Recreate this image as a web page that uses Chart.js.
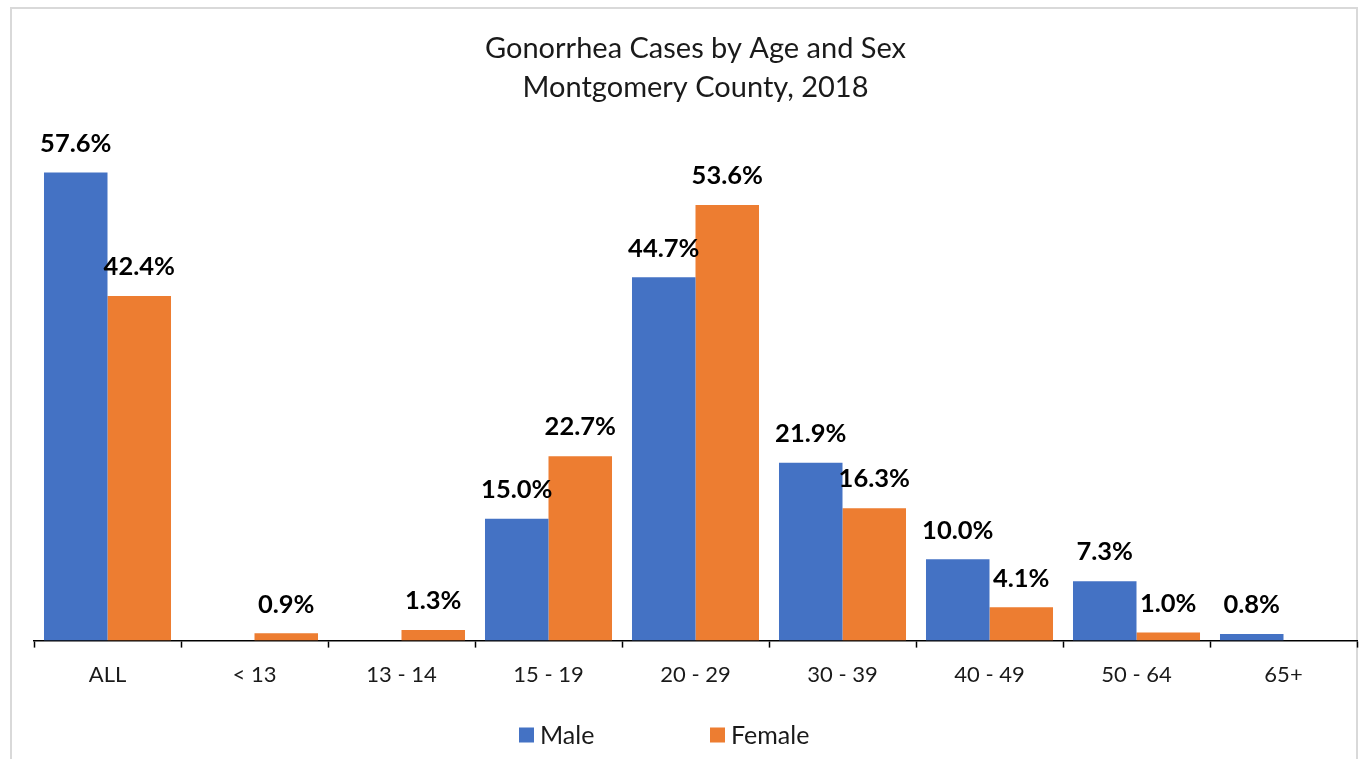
<!DOCTYPE html>
<html>
<head>
<meta charset="utf-8">
<title>Gonorrhea Cases by Age and Sex</title>
<script src="https://cdn.jsdelivr.net/npm/chart.js@4/dist/chart.umd.min.js"></script>
<style>
  html, body { margin: 0; padding: 0; background: #fff; }
  #wrap { width: 1363px; height: 759px; }
</style>
</head>
<body>
<div id="wrap"><canvas id="myChart"></canvas></div>
<script>
const ageGroups = ["ALL", "< 13", "13 - 14", "15 - 19", "20 - 29", "30 - 39", "40 - 49", "50 - 64", "65+"];
const malePct = [57.6, null, null, 15.0, 44.7, 21.9, 10.0, 7.3, 0.8];
const femalePct = [42.4, 0.9, 1.3, 22.7, 53.6, 16.3, 4.1, 1.0, null];
const titleLines = ["Gonorrhea Cases by Age and Sex", "Montgomery County, 2018"];

const fontFamily = "Lato, 'Open Sans', sans-serif";

// grey frame around the whole chart
const framePlugin = {
  id: "frame",
  beforeDraw(chart) {
    const ctx = chart.ctx;
    ctx.save();
    ctx.strokeStyle = "#d9d9d9";
    ctx.lineWidth = 2;
    ctx.strokeRect(11, 8, chart.width - 17, chart.height);
    ctx.restore();
  },
};

// percentage labels above each bar
const valueLabels = {
  id: "valueLabels",
  afterDatasetsDraw(chart) {
    const ctx = chart.ctx;
    ctx.save();
    ctx.font = "bold 25.5px " + fontFamily;
    ctx.fillStyle = "#000";
    ctx.textAlign = "center";
    ctx.textBaseline = "middle";
    chart.data.datasets.forEach(function (ds, i) {
      chart.getDatasetMeta(i).data.forEach(function (bar, j) {
        const v = ds.data[j];
        if (v === null || v === undefined) return;
        ctx.fillText(v.toFixed(1) + "%", bar.x, bar.y - 29);
      });
    });
    ctx.restore();
  },
};

// legend row under the axis
const legendRow = {
  id: "legendRow",
  afterDraw(chart) {
    const ctx = chart.ctx;
    const y = 735;
    const starts = [519, 710];
    ctx.save();
    ctx.font = "25px " + fontFamily;
    ctx.textBaseline = "middle";
    ctx.textAlign = "left";
    chart.data.datasets.forEach(function (ds, i) {
      ctx.fillStyle = ds.backgroundColor;
      ctx.fillRect(starts[i], y - 7.5, 15, 15);
      ctx.fillStyle = "#1a1a1a";
      ctx.fillText(ds.label, starts[i] + 21, y + 1);
    });
    ctx.restore();
  },
};

const data = {
  labels: ageGroups,
  datasets: [
    {
      label: "Male",
      data: malePct,
      backgroundColor: "#4472C4",
      categoryPercentage: 0.864,
      barPercentage: 1.0,
    },
    {
      label: "Female",
      data: femalePct,
      backgroundColor: "#ED7D31",
      categoryPercentage: 0.864,
      barPercentage: 1.0,
    },
  ],
};

const config = {
  type: "bar",
  data,
  options: {
    responsive: true,
    maintainAspectRatio: false,
    animation: false,
    layout: {
      padding: { left: 34, right: 6, top: 0, bottom: 57 },
    },
    plugins: {
      legend: { display: false },
      tooltip: { enabled: false },
      title: {
        display: true,
        text: titleLines,
        color: "#1a1a1a",
        font: { family: fontFamily, size: 29, weight: "normal", lineHeight: 1.345 },
        padding: { top: 29, bottom: 46 },
      },
    },
    scales: {
      x: {
        offset: true,
        grid: {
          offset: true,
          drawOnChartArea: false,
          drawTicks: true,
          tickLength: 7,
          tickWidth: 1.5,
          tickColor: "#000",
        },
        border: { display: true, color: "#000", width: 1.5 },
        ticks: {
          color: "#1a1a1a",
          padding: 14,
          maxRotation: 0,
          font: { family: fontFamily, size: 22 },
        },
      },
      y: {
        display: false,
        min: 0,
        max: 60,
      },
    },
  },
  plugins: [framePlugin, valueLabels, legendRow],
};

const myChart = new Chart(document.getElementById("myChart"), config);
</script>
</body>
</html>
